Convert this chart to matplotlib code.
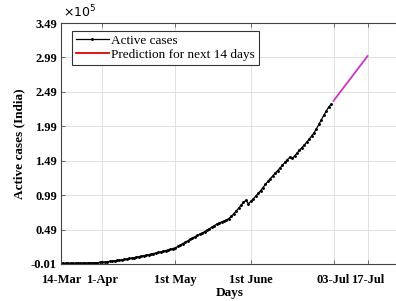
import matplotlib
matplotlib.use('Agg')
import matplotlib.pyplot as plt
from matplotlib.lines import Line2D

# days counted from 14-Mar
active = [80, 95, 110, 125, 140, 160, 200, 280, 340, 420, 480, 560, 640, 760, 880, 950,
          1300, 1650, 2000, 2400, 2800, 3300, 3700, 4200, 4700, 5200, 5800, 6400, 7000, 7600,
          8300, 9000, 9700, 10400, 11100, 11800, 12600, 13400, 14200, 15000, 15800, 16700,
          17600, 18500, 19400, 20400, 21500, 22600, 24500, 26500, 28500, 30500, 32500, 34800,
          36800, 38600, 40500, 42300, 44000, 46000, 48200, 50300, 52500, 54800, 57000, 58600,
          60000, 61500, 63000, 65000, 68500, 72000, 76000, 80000, 84500, 88500, 91500, 86500,
          90000, 93500, 97500, 101500, 105500, 110000, 114500, 119000, 123000, 127000, 131000,
          134500, 138500, 142500, 146500, 150500, 154000, 152500, 156000, 160000, 164500,
          168000, 172000, 176000, 180500, 185000, 189500, 195500, 202000, 208500, 215000,
          221000, 227000, 231000]
days = list(range(len(active)))

pred = [236000, 240600, 245300, 249900, 254600, 259200, 263900, 268500, 273100, 277800,
        282400, 287100, 291700, 296400, 301000]
pred_days = list(range(112, 112 + len(pred)))

tick_days = [0, 17, 47, 78, 112, 126]
tick_labels = ['14-Mar', '1-Apr', '1st May', '1st June', '03-Jul', '17-Jul']
yticks = [-0.01, 0.49, 0.99, 1.49, 1.99, 2.49, 2.99, 3.49]

plt.rcParams['font.family'] = 'Liberation Serif'

fig = plt.figure(figsize=(3.96, 3.01), dpi=100)
ax = fig.add_axes([61 / 396, 1 - 264 / 301, 337 / 396, 241 / 301])

ax.plot(days, [v / 1e5 for v in active], color='black', marker='.', markersize=2.2, lw=0.9)
ax.plot(pred_days, [v / 1e5 for v in pred], color='#cc33cc', lw=1.3)

ax.set_xlim(0, 138.5)
ax.set_ylim(-0.01, 3.49)
ax.set_xticks(tick_days)
ax.set_xticklabels(tick_labels, fontweight='bold', fontsize=9)
ax.set_yticks(yticks)
ax.set_yticklabels(['%.2f' % t for t in yticks], fontweight='bold', fontsize=9)
ax.tick_params(direction='in', top=True, length=3, width=0.6, color='#555555', pad=3)
ax.tick_params(axis='x', pad=7)
ax.grid(True, color='#e0e0e0', lw=0.7)
for s in ax.spines.values():
    s.set_color('#444444')
    s.set_linewidth(0.8)

ax.set_xlabel('Days', fontweight='bold', fontsize=9.5, labelpad=1)
ax.set_ylabel('Active cases (India)', fontweight='bold', fontsize=9.5, labelpad=4)
ax.text(0.005, 1.012, r'$\times 10^5$', transform=ax.transAxes, fontsize=9,
        family='DejaVu Serif', va='bottom', ha='left')

handles = [Line2D([], [], color='black', marker='.', markersize=2.2, lw=0.9),
           Line2D([], [], color='#e00000', lw=1.3)]
leg = ax.legend(handles, ['Active cases', 'Prediction for next 14 days'],
                loc='upper left', bbox_to_anchor=(0.02, 0.985), fontsize=9.5,
                fancybox=False, framealpha=1, edgecolor='#333333',
                handlelength=2.5, handletextpad=0.2, borderpad=0.3, labelspacing=0.15,
                borderaxespad=0.3)
leg.get_frame().set_linewidth(0.8)

fig.savefig('out.png', dpi=100)
